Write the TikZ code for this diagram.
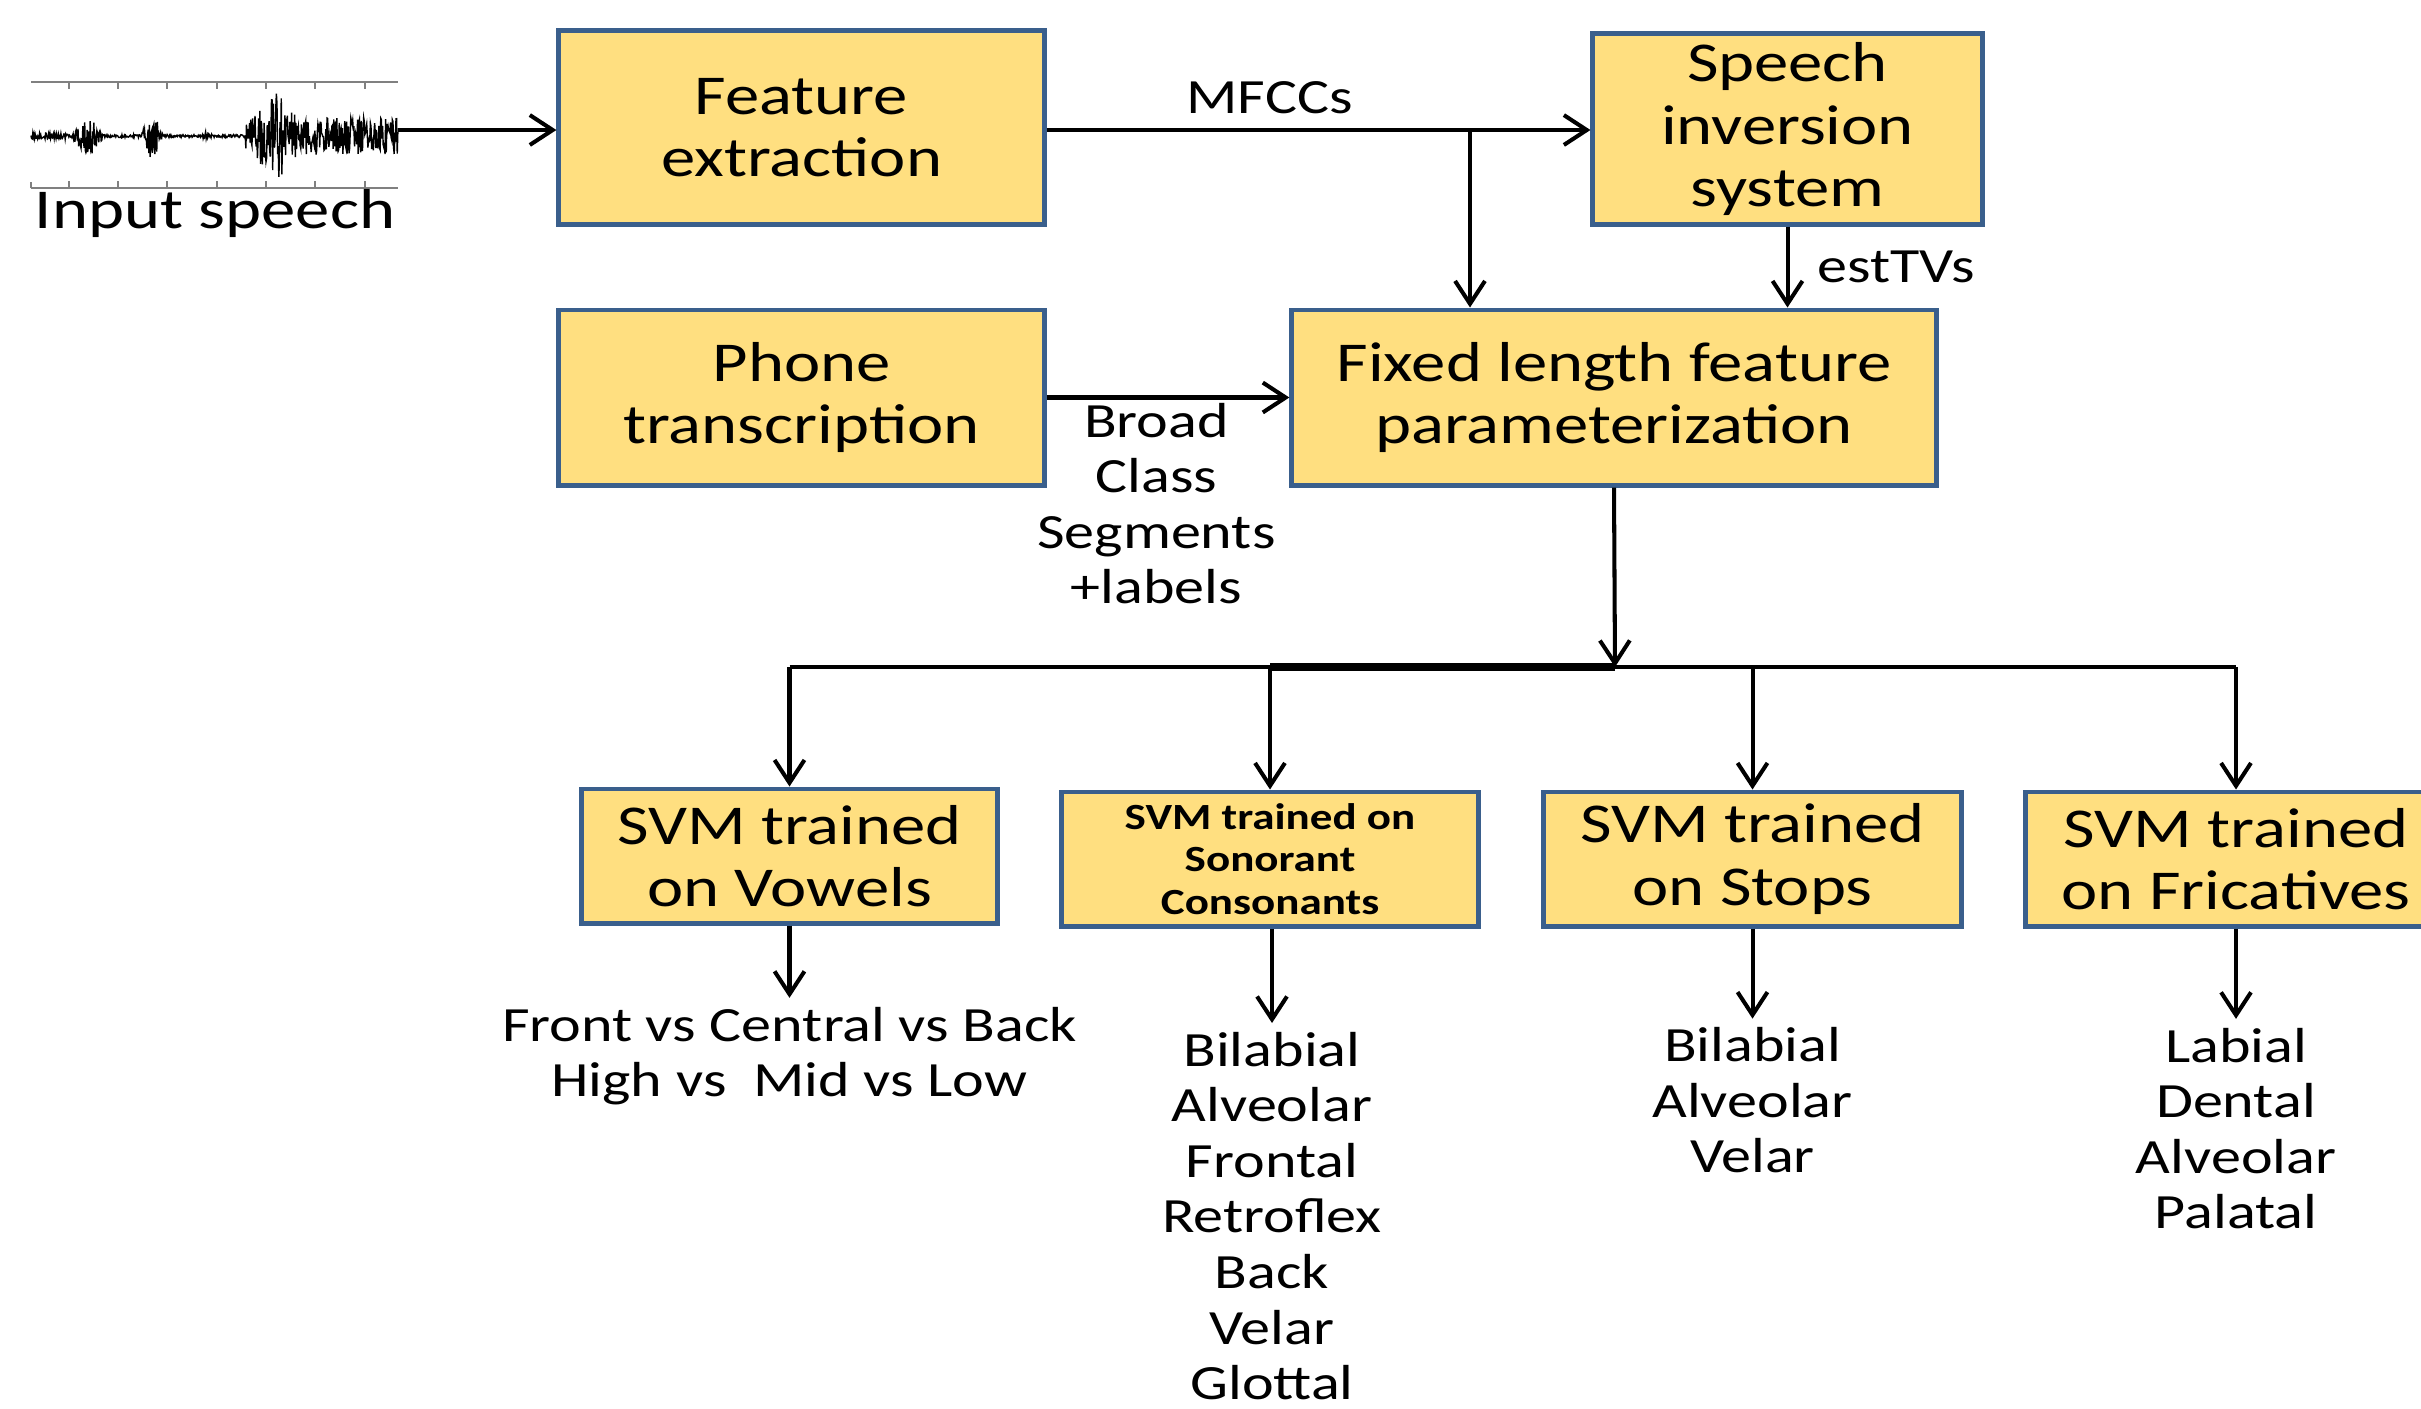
\documentclass[tikz,border=0pt]{standalone}
\usepackage{fontspec}
\setmainfont{Carlito}[FakeStretch=1.22]
\usetikzlibrary{positioning}
\usetikzlibrary{arrows.meta}
\definecolor{boxfill}{RGB}{255,223,128}
\definecolor{boxline}{RGB}{58,95,140}

\begin{document}
\begin{tikzpicture}[x=0.01cm, y=-0.01cm, ->, >={Straight Barb[length=6.5pt,width=8.5pt]}, line width=1.15pt,
  blk/.style={draw=boxline, fill=boxfill, line width=1.4pt, align=center, inner sep=2pt, font=\fontsize{16}{17.8}\selectfont},
  res/.style={align=center, inner sep=2pt, font=\fontsize{14}{15.8}\selectfont},
  declare function={env(\t)=1.5+(\t<0.1)*1.5+22*max(0,1-abs(\t-0.155)/0.045)+26*max(0,1-abs(\t-0.33)/0.03)+4*max(0,1-abs(\t-0.48)/0.015)+(\t>0.585)*(17+26*max(0,1-abs(\t-0.67)/0.07));}]
		\useasboundingbox (0,0) rectangle (2421,1408);
		% input waveform
		\pgfmathsetseed{12}
		\draw[-, gray, line width=0.6pt] (31,82) -- (398,82);
		\draw[-, gray, line width=0.6pt] (31,188) -- (398,188);
		\draw[-, gray, line width=0.6pt] (31,188) -- ++(0,-6);
		\foreach \f in {0.104,0.236,0.37,0.508,0.64,0.773,0.909} {
			\draw[-, gray, line width=0.6pt] ({31+367*\f},82) -- ++(0,7);
			\draw[-, gray, line width=0.6pt] ({31+367*\f},188) -- ++(0,-7);
		}
		\draw[-, line width=0.4pt] plot[domain=0:1, samples=600, variable=\t] ({31+367*\t},{136+env(\t)*(2*rnd-1)});
		\coordinate (wv) at (398,130);
		\node (inlbl) [res, font=\fontsize{16}{17.8}\selectfont] at (215,213) {Input speech};
		% blocks
		\node (feat) [blk, minimum width=4.85cm, minimum height=1.93cm] at (801.5,127.5) {Feature\\extraction};
		\node (inv) [blk, minimum width=3.89cm, minimum height=1.9cm] at (1787.5,129) {Speech\\inversion\\system};
		\node (phone) [blk, minimum width=4.85cm, minimum height=1.75cm] at (801.5,397.5) {Phone\\transcription};
		\node (fixed) [blk, minimum width=6.44cm, minimum height=1.75cm] at (1614,397.5) {Fixed length feature\\parameterization};
		\node (vowel) [blk, minimum width=4.15cm, minimum height=1.34cm] at (789.5,856) {SVM trained\\on Vowels};
		\node (sonor) [blk, minimum width=4.16cm, minimum height=1.34cm, font=\fontsize{10.5}{12}\selectfont\bfseries] at (1270,859) {SVM trained on\\Sonorant\\Consonants};
		\node (stop) [blk, minimum width=4.17cm, minimum height=1.34cm] at (1752.5,859) {SVM trained\\on Stops};
		\node (fric) [blk, minimum width=4.2cm, minimum height=1.34cm] at (2236,859) {SVM trained\\on Fricatives};
		% outputs
		\node (vowout) [res] at (789.5,1056) {Front vs Central vs Back\\High vs\ \ Mid vs Low};
		\node (sonout) [res] at (1272,1216) {Bilabial\\Alveolar\\Frontal\\Retroflex\\Back\\Velar\\Glottal};
		\node (stopout) [res] at (1752.5,1100.5) {Bilabial\\Alveolar\\Velar};
		\node (fricout) [res] at (2236,1128.5) {Labial\\Dental\\Alveolar\\Palatal};
		% connectors
		\draw (wv) -- (wv -| feat.west);
		\coordinate (mj) at (1470,130);
		\draw (feat.east |- mj) -- node[res, above, pos=0.41, inner sep=4pt] {MFCCs} (mj -| inv.west);
		\draw (mj) -- (mj |- fixed.north);
		\draw (inv.south) -- node[res, right, xshift=6pt] {estTVs} (inv.south |- fixed.north);
		\draw (phone.east) -- node[res, below, inner sep=1pt, xshift=-3.3pt] {Broad\\Class\\Segments\\+labels} (fixed.west);
		\coordinate (bus) at (1615,667);
		\draw (fixed.south) -- (bus);
		\draw[-] (vowel.north |- bus) -- (fric.north |- bus);
		\draw[-, line width=2.2pt, yshift=-0.6pt] (sonor.north |- bus) -- (bus);
		\foreach \b in {vowel,sonor,stop,fric}
			\draw (\b.north |- bus) -- (\b.north);
		\foreach \b/\o in {vowel/vowout,sonor/sonout,stop/stopout,fric/fricout}
			\draw (\b.south -| \o.north) -- (\o.north);
\end{tikzpicture}
\end{document}
